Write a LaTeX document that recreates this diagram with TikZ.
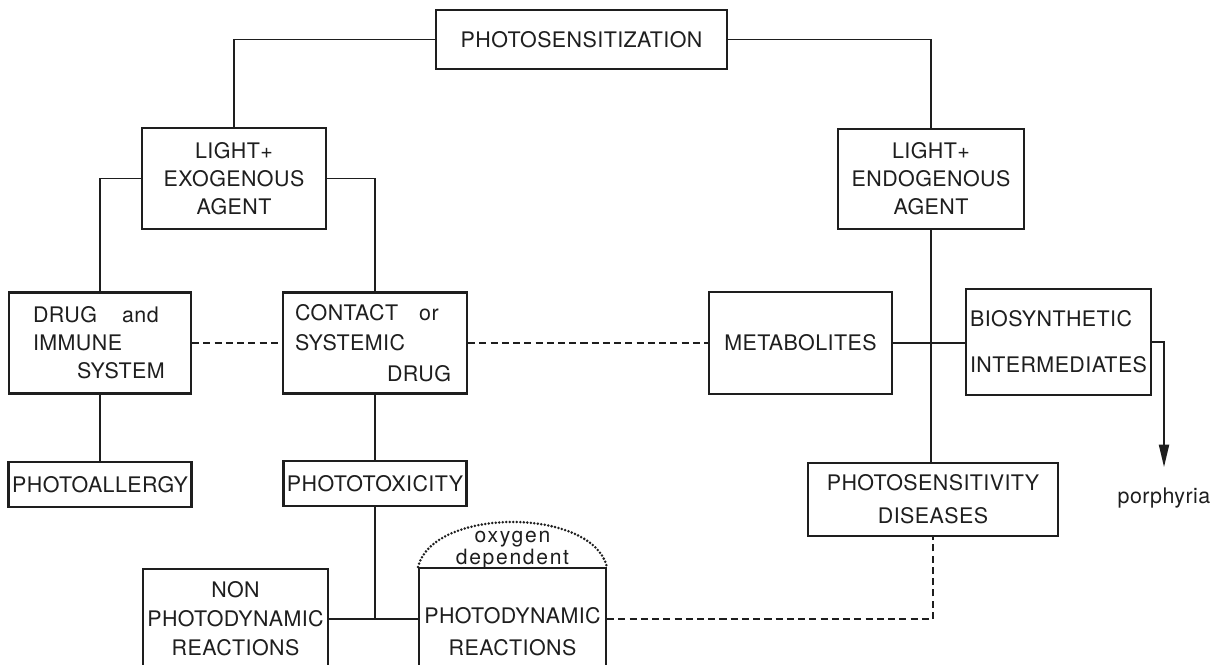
\documentclass[tikz,border=0pt]{standalone}
\usepackage{fontspec}
\setmainfont{TeX Gyre Heros}[LetterSpace=2]
\newfontfamily\oxyfont{TeX Gyre Heros}[LetterSpace=8]
\usepackage{tikz}
\usetikzlibrary{arrows.meta,positioning}
\definecolor{InkGray}{RGB}{30,30,30}
\newcommand{\boxfont}{\fontsize{12.2}{16}\selectfont}

\begin{document}
\begin{tikzpicture}[x=0.02cm,y=-0.02cm,
  box/.style={draw=InkGray,line width=1.2pt,text=InkGray,font=\boxfont,align=center,inner sep=1pt},
  link/.style={draw=InkGray,line width=1.1pt},
  dashlink/.style={draw=InkGray,line width=0.9pt,dash pattern=on 4pt off 2.4pt},
  oxyarc/.style={draw=InkGray,line width=1.6pt,line cap=round,dash pattern=on 0pt off 2pt}]
  \useasboundingbox (0,0) rectangle (1212,665);
  \node[box,minimum width=5.82cm,minimum height=1.18cm] (top) at (581.5,39.5) {PHOTOSENSITIZATION};
  \node[box,minimum width=3.68cm,minimum height=2.02cm] (exo) at (234,178.5) {LIGHT+\\EXOGENOUS\\AGENT};
  \node[box,minimum width=3.72cm,minimum height=2.0cm] (endo) at (931,179) {LIGHT+\\ENDOGENOUS\\AGENT};
  \node[box,align=left,text width=2.68cm,inner xsep=0.48cm,minimum height=2.02cm] (drug) at (100,343)
    {DRUG\hspace{0.5cm}and\\IMMUNE\\\hspace*{0.88cm}SYSTEM};
  \node[box,align=left,text width=3.2cm,inner xsep=0.24cm,minimum height=2.02cm] (contact) at (375,343)
    {CONTACT\hspace{0.42cm}or\\[1.4pt]SYSTEMIC\\[1.4pt]\hspace*{1.84cm}DRUG};
  \node[box,minimum width=3.66cm,minimum height=2.04cm] (meta) at (800.5,343) {METABOLITES};
  \node[box,align=left,text width=3.54cm,inner xsep=0.08cm,minimum height=2.12cm] (bio) at (1058.5,342)
    {BIOSYNTHETIC\\[10pt]INTERMEDIATES};
  \node[box,minimum width=3.66cm,minimum height=0.9cm] (allergy) at (100,484.5) {PHOTOALLERGY};
  \node[box,minimum width=3.66cm,minimum height=0.9cm] (toxic) at (375,483.5) {PHOTOTOXICITY};
  \node[box,minimum width=5cm,minimum height=1.46cm] (sens) at (933,499.5) {PHOTOSENSITIVITY\\[2.8pt]DISEASES};
  \node[text=InkGray,font=\boxfont,anchor=base] (porph) at (1164,503) {porphyria};
  \node[box,minimum width=3.7cm,minimum height=2cm] (nonpd) at (235.5,619) {NON\\[0.5pt]PHOTODYNAMIC\\[0.5pt]REACTIONS};
  \node[box,minimum width=3.74cm,minimum height=2.56cm] (pd) at (512.5,632) {PHOTODYNAMIC\\[2.2pt]REACTIONS};
  \node[text=InkGray,font=\oxyfont\fontsize{12}{10.5}\selectfont,align=center,inner sep=0pt] (oxy) at (512.5,550) {oxygen\\dependent};
  \draw[link] (top.west) -| (exo.north);
  \draw[link] (top.east) -| (endo.north);
  \draw[link] (exo.west) -| (drug.north);
  \draw[link] (exo.east) -| (contact.north);
  \draw[dashlink] (drug.east) -- (contact.west);
  \draw[dashlink] (contact.east) -- (meta.west);
  \draw[link] (meta.east) -- (meta.east -| bio.west);
  \draw[link] (endo.south) -- (endo.south |- sens.north);
  \draw[link] (drug.south) -- (drug.south |- allergy.north);
  \draw[link] (contact.south) -- (toxic.north);
  \draw[link] (toxic.south) -- (toxic.south |- nonpd.east);
  \draw[link] (nonpd.east) -- (nonpd.east -| pd.west);
  \draw[dashlink] (nonpd.east -| pd.east) -| (sens.south);
  \draw[link,-{Triangle[length=0.45cm,width=0.2cm]},shorten >=0.28cm] (bio.east) -| (porph.north);
  \draw[oxyarc] (pd.north west) .. controls +(15,-60) and +(-15,-60) .. (pd.north east);
\end{tikzpicture}
\end{document}
